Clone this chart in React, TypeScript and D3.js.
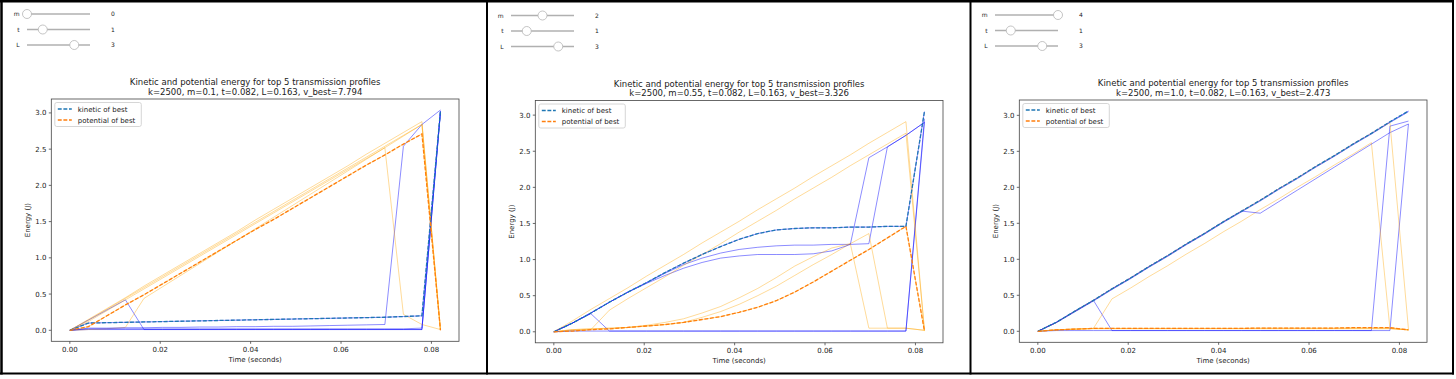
import React from 'react';
import * as d3 from 'd3';

const TIME = [0, 0.0041, 0.0082, 0.0123, 0.0164, 0.0205, 0.0246, 0.0287, 0.0328, 0.0369, 0.041, 0.0451, 0.0492, 0.0533, 0.0574, 0.0615, 0.0656, 0.0697, 0.0738, 0.0779, 0.082];
const X_TICKS = [0, 0.02, 0.04, 0.06, 0.08];
const Y_TICKS = [0, 0.5, 1.0, 1.5, 2.0, 2.5, 3.0];
const SLIDER_NAMES = ['m', 't', 'L'];
const SLIDER_MAX = 4;
const TITLE = 'Kinetic and potential energy for top 5 transmission profiles';
const LEGEND_LABELS = ['kinetic of best', 'potential of best'];
const X_LABEL = 'Time (seconds)';
const Y_LABEL = 'Energy (J)';

// ---- Panel 1 (m = 0.1)
const P1_SLIDERS = [0, 1, 3];
const P1_SUBTITLE = 'k=2500, m=0.1, t=0.082, L=0.163, v_best=7.794';
const P1_KINETIC = [
  [0, 0.10, 0.105, 0.11, 0.115, 0.12, 0.125, 0.13, 0.135, 0.14, 0.145, 0.15, 0.155, 0.16, 0.165, 0.17, 0.175, 0.18, 0.19, 0.20, 3.03],
  [0, 0.01, 0.01, 0.01, 0.01, 0.01, 0.01, 0.01, 0.01, 0.01, 0.01, 0.01, 0.01, 0.01, 0.01, 0.01, 0.01, 0.01, 0.01, 0.01, 3.02],
  [0, 0.14, 0.28, 0.42, 0.01, 0.01, 0.01, 0.01, 0.01, 0.01, 0.01, 0.01, 0.01, 0.01, 0.01, 0.01, 0.01, 0.01, 0.01, 0.01, 3.02],
  [0, 0.03, 0.03, 0.035, 0.035, 0.04, 0.04, 0.045, 0.045, 0.05, 0.05, 0.055, 0.055, 0.06, 0.065, 0.07, 0.075, 0.08, 2.54, 2.84, 3.04],
  [0, 0.02, 0.02, 0.02, 0.02, 0.02, 0.02, 0.02, 0.02, 0.02, 0.02, 0.02, 0.02, 0.02, 0.02, 0.02, 0.02, 0.02, 0.02, 0.03, 3.0],
];
const P1_POTENTIAL = [
  [0, 0.05, 0.20, 0.35, 0.49, 0.64, 0.79, 0.94, 1.09, 1.24, 1.39, 1.53, 1.68, 1.83, 1.98, 2.13, 2.28, 2.42, 2.57, 2.71, 0.0],
  [0, 0.15, 0.30, 0.45, 0.61, 0.76, 0.91, 1.06, 1.21, 1.36, 1.52, 1.67, 1.82, 1.97, 2.12, 2.27, 2.43, 2.58, 2.73, 2.88, 0.01],
  [0, 0.01, 0.02, 0.04, 0.44, 0.60, 0.76, 0.92, 1.08, 1.24, 1.40, 1.56, 1.72, 1.88, 2.04, 2.20, 2.36, 2.52, 2.68, 2.84, 0.01],
  [0, 0.12, 0.27, 0.42, 0.57, 0.72, 0.87, 1.02, 1.17, 1.32, 1.47, 1.62, 1.77, 1.92, 2.07, 2.22, 2.37, 2.52, 0.22, 0.08, 0.01],
  [0, 0.14, 0.29, 0.44, 0.59, 0.74, 0.89, 1.04, 1.19, 1.34, 1.49, 1.64, 1.79, 1.94, 2.09, 2.24, 2.39, 2.54, 2.69, 2.84, 0.01],
];

// ---- Panel 2 (m = 0.55)
const P2_SLIDERS = [2, 1, 3];
const P2_SUBTITLE = 'k=2500, m=0.55, t=0.082, L=0.163, v_best=3.326';
const P2_KINETIC = [
  [0, 0.12, 0.26, 0.41, 0.55, 0.68, 0.82, 0.95, 1.07, 1.18, 1.28, 1.36, 1.41, 1.43, 1.44, 1.44, 1.45, 1.45, 1.46, 1.46, 3.05],
  [0, 0.12, 0.26, 0.41, 0.55, 0.68, 0.81, 0.93, 1.02, 1.09, 1.14, 1.17, 1.19, 1.20, 1.20, 1.21, 1.21, 1.22, 2.56, 2.72, 2.90],
  [0, 0.12, 0.26, 0.41, 0.55, 0.67, 0.78, 0.88, 0.96, 1.02, 1.05, 1.07, 1.07, 1.07, 1.08, 1.12, 1.21, 2.41, 2.56, 2.72, 2.90],
  [0, 0.12, 0.25, 0.01, 0.01, 0.01, 0.01, 0.01, 0.01, 0.01, 0.01, 0.01, 0.01, 0.01, 0.01, 0.01, 0.01, 0.01, 0.01, 0.01, 2.95],
  [0, 0.01, 0.01, 0.01, 0.01, 0.01, 0.01, 0.01, 0.01, 0.01, 0.01, 0.01, 0.01, 0.01, 0.01, 0.01, 0.01, 0.01, 0.01, 0.01, 2.90],
];
const P2_POTENTIAL = [
  [0, 0.01, 0.03, 0.04, 0.06, 0.08, 0.10, 0.13, 0.17, 0.21, 0.27, 0.34, 0.43, 0.55, 0.69, 0.84, 0.99, 1.14, 1.30, 1.46, 0.01],
  [0, 0.03, 0.04, 0.05, 0.06, 0.08, 0.10, 0.13, 0.20, 0.28, 0.38, 0.50, 0.63, 0.78, 0.93, 1.07, 1.22, 1.36, 0.05, 0.05, 0.02],
  [0, 0.03, 0.04, 0.05, 0.06, 0.09, 0.13, 0.18, 0.26, 0.35, 0.47, 0.60, 0.75, 0.91, 1.04, 1.16, 1.22, 0.05, 0.05, 0.05, 0.02],
  [0, 0.02, 0.03, 0.30, 0.46, 0.61, 0.76, 0.92, 1.07, 1.22, 1.38, 1.53, 1.68, 1.84, 1.99, 2.14, 2.30, 2.45, 2.60, 2.75, 0.02],
  [0, 0.15, 0.31, 0.46, 0.61, 0.77, 0.92, 1.07, 1.23, 1.38, 1.53, 1.69, 1.84, 1.99, 2.15, 2.30, 2.45, 2.61, 2.76, 2.91, 0.02],
];

// ---- Panel 3 (m = 1.0)
const P3_SLIDERS = [4, 1, 3];
const P3_SUBTITLE = 'k=2500, m=1.0, t=0.082, L=0.163, v_best=2.473';
const P3_KINETIC = [
  [0, 0.125, 0.28, 0.43, 0.59, 0.74, 0.90, 1.05, 1.21, 1.36, 1.52, 1.67, 1.82, 1.98, 2.13, 2.29, 2.44, 2.60, 2.75, 2.91, 3.06],
  [0, 0.125, 0.28, 0.43, 0.01, 0.01, 0.01, 0.01, 0.01, 0.01, 0.01, 0.01, 0.01, 0.01, 0.01, 0.01, 0.01, 0.01, 0.01, 2.85, 2.92],
  [0, 0.125, 0.28, 0.43, 0.59, 0.74, 0.90, 1.05, 1.21, 1.36, 1.52, 1.67, 1.64, 1.80, 1.96, 2.12, 2.28, 2.44, 2.60, 2.76, 2.88],
  [0, 0.01, 0.01, 0.01, 0.01, 0.01, 0.01, 0.01, 0.01, 0.01, 0.01, 0.01, 0.01, 0.01, 0.01, 0.01, 0.01, 0.01, 0.01, 0.01, 2.88],
  [0, 0.12, 0.27, 0.42, 0.58, 0.73, 0.89, 1.04, 1.20, 1.35, 1.51, 1.66, 1.81, 1.97, 2.12, 2.28, 2.43, 2.59, 2.74, 2.90, 3.05],
];
const P3_POTENTIAL = [
  [0, 0.02, 0.03, 0.04, 0.04, 0.04, 0.04, 0.04, 0.04, 0.04, 0.04, 0.04, 0.045, 0.045, 0.045, 0.045, 0.045, 0.05, 0.05, 0.05, 0.02],
  [0, 0.02, 0.03, 0.04, 0.45, 0.60, 0.76, 0.91, 1.07, 1.22, 1.38, 1.53, 1.69, 1.84, 2.00, 2.15, 2.31, 2.46, 2.62, 0.04, 0.02],
  [0, 0.02, 0.03, 0.035, 0.035, 0.035, 0.035, 0.035, 0.035, 0.035, 0.035, 0.035, 0.035, 0.035, 0.035, 0.035, 0.035, 0.035, 0.035, 0.035, 0.02],
  [0, 0.12, 0.28, 0.43, 0.59, 0.74, 0.90, 1.05, 1.21, 1.36, 1.52, 1.67, 1.82, 1.98, 2.13, 2.29, 2.44, 2.60, 2.75, 2.90, 0.03],
  [0, 0.02, 0.03, 0.04, 0.04, 0.04, 0.04, 0.04, 0.04, 0.04, 0.04, 0.04, 0.04, 0.04, 0.04, 0.04, 0.04, 0.04, 0.04, 0.04, 0.02],
];

const FONT = 'DejaVu Sans, sans-serif';
const TEXT = '#222';
const SPINE = '#444';

type PanelProps = {
  x0: number;
  dy: number;
  sliders: number[];
  subtitle: string;
  kinetic: number[][];
  potential: number[][];
};

function Slider({ x0, y, name, value }: { x0: number; y: number; name: string; value: number }) {
  const s = d3.scaleLinear().domain([0, SLIDER_MAX]).range([x0 + 27, x0 + 90]);
  return (
    <g>
      <text x={x0 + 19.5} y={y + 2.2} fontSize={6} fontFamily={FONT} fill={TEXT} textAnchor="end">{name}</text>
      <line x1={s(0)} x2={s(SLIDER_MAX)} y1={y} y2={y} stroke="#b0b0b0" strokeWidth={1.5} />
      <circle cx={s(value)} cy={y} r={4.5} fill="#fff" stroke="#b5b5b5" strokeWidth={0.8} />
      <text x={x0 + 113} y={y + 2.2} fontSize={6} fontFamily={FONT} fill={TEXT} textAnchor="middle">{value}</text>
    </g>
  );
}

function Panel({ x0, dy, sliders, subtitle, kinetic, potential }: PanelProps) {
  const left = x0 + 51.3;
  const right = x0 + 459;
  const top = 99 + dy;
  const bottom = 341.3 + dy;
  const all = [...kinetic.flat(), ...potential.flat()];
  const [ymin, ymax] = d3.extent(all) as [number, number];
  const ypad = (ymax - ymin) * 0.05;
  const [tmin, tmax] = d3.extent(TIME) as [number, number];
  const xpad = (tmax - tmin) * 0.05;
  const x = d3.scaleLinear().domain([tmin - xpad, tmax + xpad]).range([left, right]);
  const y = d3.scaleLinear().domain([ymin - ypad, ymax + ypad]).range([bottom, top]);
  const line = d3.line<number>().x((_, i) => x(TIME[i])).y((v) => y(v));
  const cx = (left + right) / 2;
  const sliderRows = [14, 29.5, 45];

  return (
    <g>
      {SLIDER_NAMES.map((n, i) => (
        <Slider key={n} x0={x0} y={sliderRows[i] + dy} name={n} value={sliders[i]} />
      ))}
      <text x={cx} y={85.4 + dy} fontSize={8.5} fontFamily={FONT} fill={TEXT} textAnchor="middle">{TITLE}</text>
      <text x={cx} y={94.9 + dy} fontSize={8.5} fontFamily={FONT} fill={TEXT} textAnchor="middle">{subtitle}</text>

      {/* thin profile lines */}
      {kinetic.map((k, i) => (
        <g key={'p' + i}>
          <path d={line(k) || ''} fill="none" stroke="#0000ff" strokeOpacity={0.45} strokeWidth={1} />
          <path d={line(potential[i]) || ''} fill="none" stroke="#ffa500" strokeOpacity={0.4} strokeWidth={1} />
        </g>
      ))}
      {/* best profile dashed */}
      <path d={line(kinetic[0]) || ''} fill="none" stroke="#1f77b4" strokeWidth={1.3} strokeDasharray="3.9,1.7" />
      <path d={line(potential[0]) || ''} fill="none" stroke="#ff7f0e" strokeWidth={1.3} strokeDasharray="3.9,1.7" />

      {/* spines */}
      <rect x={left} y={top} width={right - left} height={bottom - top} fill="none" stroke={SPINE} strokeWidth={0.8} />

      {/* x ticks */}
      {X_TICKS.map((t) => (
        <g key={'x' + t}>
          <line x1={x(t)} x2={x(t)} y1={bottom} y2={bottom + 2.5} stroke={SPINE} strokeWidth={0.8} />
          <text x={x(t)} y={bottom + 10.6} fontSize={7} fontFamily={FONT} fill={TEXT} textAnchor="middle">{t.toFixed(2)}</text>
        </g>
      ))}
      {/* y ticks */}
      {Y_TICKS.map((t) => (
        <g key={'y' + t}>
          <line x1={left - 2.5} x2={left} y1={y(t)} y2={y(t)} stroke={SPINE} strokeWidth={0.8} />
          <text x={left - 4.8} y={y(t) + 2.5} fontSize={7} fontFamily={FONT} fill={TEXT} textAnchor="end">{t.toFixed(1)}</text>
        </g>
      ))}
      <text x={cx} y={bottom + 20.5} fontSize={7} fontFamily={FONT} fill={TEXT} textAnchor="middle">{X_LABEL}</text>
      <text transform={`translate(${x0 + 30.2},${(top + bottom) / 2}) rotate(-90)`} fontSize={7} fontFamily={FONT} fill={TEXT} textAnchor="middle">{Y_LABEL}</text>

      {/* legend */}
      <rect x={left + 3.5} y={top + 3.5} width={86.5} height={24} rx={2} fill="#fff" fillOpacity={0.8} stroke="#cccccc" strokeWidth={0.8} />
      {LEGEND_LABELS.map((lab, i) => {
        const ry = top + 10 + i * 11;
        return (
          <g key={lab}>
            <line x1={left + 6.5} x2={left + 20.5} y1={ry} y2={ry} stroke={i === 0 ? '#1f77b4' : '#ff7f0e'} strokeWidth={1.3} strokeDasharray="3.9,1.7" />
            <text x={left + 26.5} y={ry + 2.5} fontSize={7} fontFamily={FONT} fill={TEXT}>{lab}</text>
          </g>
        );
      })}
    </g>
  );
}

export default function App() {
  return (
    <svg width={1456} height={379} style={{ position: 'absolute', left: 0, top: 0, background: '#fff' }}>
      <rect x={0} y={0} width={1456} height={379} fill="#fff" />
      <Panel x0={0} dy={0} sliders={P1_SLIDERS} subtitle={P1_SUBTITLE} kinetic={P1_KINETIC} potential={P1_POTENTIAL} />
      <Panel x0={484} dy={1.5} sliders={P2_SLIDERS} subtitle={P2_SUBTITLE} kinetic={P2_KINETIC} potential={P2_POTENTIAL} />
      <Panel x0={968} dy={1} sliders={P3_SLIDERS} subtitle={P3_SUBTITLE} kinetic={P3_KINETIC} potential={P3_POTENTIAL} />
      {/* frame borders */}
      <line x1={0} x2={1454} y1={1.2} y2={1.2} stroke="#000" strokeWidth={2.4} />
      <line x1={1.5} x2={1.5} y1={0} y2={374.5} stroke="#000" strokeWidth={2.5} />
      <line x1={487} x2={487} y1={0} y2={374.5} stroke="#000" strokeWidth={2} />
      <line x1={970.5} x2={970.5} y1={0} y2={374.5} stroke="#000" strokeWidth={2} />
      <line x1={1453} x2={1453} y1={0} y2={374.5} stroke="#000" strokeWidth={2} />
      <line x1={0} x2={1454} y1={373.5} y2={373.5} stroke="#000" strokeWidth={2} />
    </svg>
  );
}
